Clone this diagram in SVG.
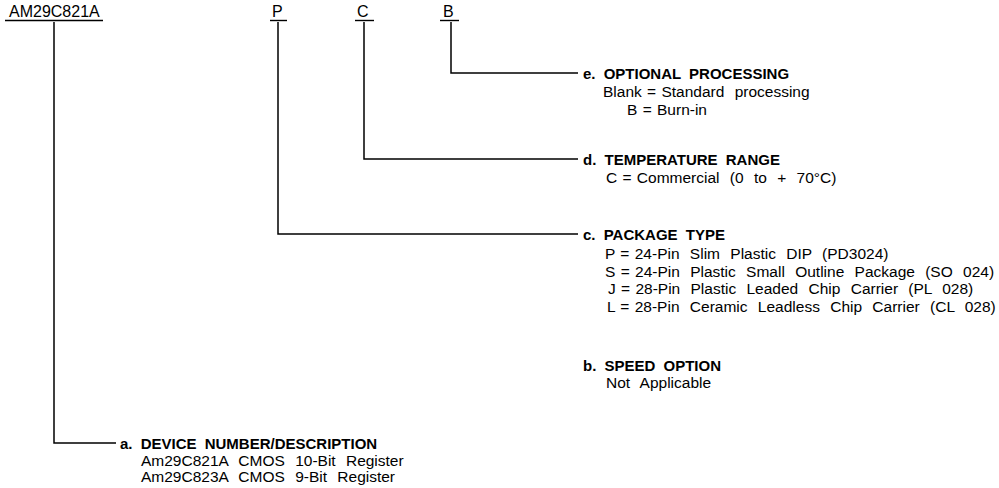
<svg xmlns="http://www.w3.org/2000/svg" width="999" height="488" viewBox="0 0 999 488">
<style>
text{font-family:"Liberation Sans",Arial,Helvetica,sans-serif;fill:#000}
.code{font-size:16px}
.h{font-size:15px;font-weight:bold;word-spacing:4px}
.t{font-size:15.5px;word-spacing:6px}
.eq{word-spacing:1px}
.ul{stroke:#000;stroke-width:1.4;fill:none}
.conn path{stroke:#000;stroke-width:1.5;fill:none}
</style>
<rect width="999" height="488" fill="#fff"/>
<g id="code-device">
<text class="code" x="9" y="17">AM29C821A</text>
<line class="ul" x1="5" y1="20.5" x2="103" y2="20.5"/>
</g>
<g id="code-package">
<text class="code" x="272" y="17">P</text>
<line class="ul" x1="270" y1="20.5" x2="287" y2="20.5"/>
</g>
<g id="code-temperature">
<text class="code" x="357" y="17">C</text>
<line class="ul" x1="355" y1="20.5" x2="374" y2="20.5"/>
</g>
<g id="code-processing">
<text class="code" x="443" y="17">B</text>
<line class="ul" x1="440" y1="20.5" x2="459" y2="20.5"/>
</g>
<g class="conn" id="connectors">
<path d="M451 22 V73 H578"/>
<path d="M364 22 V159 H578"/>
<path d="M278 22 V234 H578"/>
<path d="M54 22 V443 H116"/>
</g>
<g id="node-e">
<text class="h" x="583" y="78.5">e. OPTIONAL PROCESSING</text>
<text class="t" x="603" y="97"><tspan class="eq">Blank = </tspan>Standard processing</text>
<text class="t" x="627" y="114.5"><tspan class="eq">B = </tspan>Burn-in</text>
</g>
<g id="node-d">
<text class="h" x="583" y="164.5">d. TEMPERATURE RANGE</text>
<text class="t" x="606" y="182.5"><tspan class="eq">C = </tspan>Commercial (0 to + 70°C)</text>
</g>
<g id="node-c">
<text class="h" x="583" y="239.5">c. PACKAGE TYPE</text>
<text class="t" x="605" y="259"><tspan class="eq">P = </tspan>24-Pin Slim Plastic DIP (PD3024)</text>
<text class="t" x="605" y="276.5"><tspan class="eq">S = </tspan>24-Pin Plastic Small Outline Package (SO 024)</text>
<text class="t" x="608" y="294"><tspan class="eq">J = </tspan>28-Pin Plastic Leaded Chip Carrier (PL 028)</text>
<text class="t" x="607" y="311.5"><tspan class="eq">L = </tspan>28-Pin Ceramic Leadless Chip Carrier (CL 028)</text>
</g>
<g id="node-b">
<text class="h" x="583" y="370.5">b. SPEED OPTION</text>
<text class="t" x="606" y="388">Not Applicable</text>
</g>
<g id="node-a">
<text class="h" x="120" y="448.5">a. DEVICE NUMBER/DESCRIPTION</text>
<text class="t" x="141" y="465.5">Am29C821A CMOS 10-Bit Register</text>
<text class="t" x="141" y="482">Am29C823A CMOS 9-Bit Register</text>
</g>
</svg>
